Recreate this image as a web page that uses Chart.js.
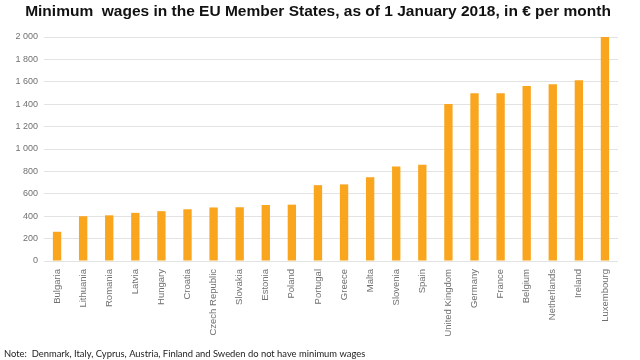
<!DOCTYPE html>
<html><head><meta charset="utf-8">
<script src="https://cdn.jsdelivr.net/npm/chart.js@4"></script>
<style>html,body{margin:0;padding:0;background:#fff}#w{width:640px;height:360px}</style>
</head><body><div id="w"><canvas id="c"></canvas></div>
<script>
const titleText = "Minimum  wages in the EU Member States, as of 1 January 2018, in € per month";
const noteText = "Note:  Denmark, Italy, Cyprus, Austria, Finland and Sweden do not have minimum wages";
const countries = ["Bulgaria","Lithuania","Romania","Latvia","Hungary","Croatia","Czech Republic","Slovakia","Estonia","Poland","Portugal","Greece","Malta","Slovenia","Spain","United Kingdom","Germany","France","Belgium","Netherlands","Ireland","Luxembourg"];
const wages = [261,400,408,430,445,462,478,480,500,503,677,684,748,843,859,1401,1498,1498,1563,1578,1614,1999];
const yTicks = [0,200,400,600,800,1000,1200,1400,1600,1800,2000];

const notePlugin = {
  id:'note',
  afterDraw(chart){
    const ctx = chart.ctx;
    ctx.save();
    ctx.font = '9.4px Lato';
    ctx.fillStyle = '#222';
    ctx.textBaseline = 'alphabetic';
    ctx.textAlign = 'left';
    ctx.fillText(noteText, 4, 357);
    ctx.font = 'bold 15.5px "Liberation Sans"';
    ctx.textAlign = 'center';
    ctx.fillStyle = '#111';
    ctx.fillText(titleText, 318, 16);
    ctx.restore();
  }
};

new Chart(document.getElementById('c'), {
  type:'bar',
  data:{labels:countries, datasets:[{data:wages, backgroundColor:'#F9A61E', barPercentage:0.32, categoryPercentage:1}]},
  options:{
    responsive:true, maintainAspectRatio:false, animation:false,
    layout:{padding:{top:37,right:22,left:0,bottom:0}},
    plugins:{legend:{display:false}, tooltip:{enabled:false}},
    scales:{
      x:{
        grid:{display:false},
        border:{display:false},
        ticks:{minRotation:90,maxRotation:90,autoSkip:false,color:'#707070',font:{family:'Liberation Sans',size:9.5},padding:0},
        afterFit(s){ s.height = 99; }
      },
      y:{
        min:0,max:2000,
        afterBuildTicks(s){ s.ticks = yTicks.map(v=>({value:v})); },
        grid:{color:'#e3e3e3', drawTicks:false},
        border:{display:false},
        ticks:{color:'#707070',font:{family:'Liberation Sans',size:9},padding:6,
          callback:v=>String(v).replace(/\B(?=(\d{3})+(?!\d))/g,' ')},
        afterFit(s){ s.width = 44; }
      }
    }
  },
  plugins:[notePlugin]
});
</script></body></html>
